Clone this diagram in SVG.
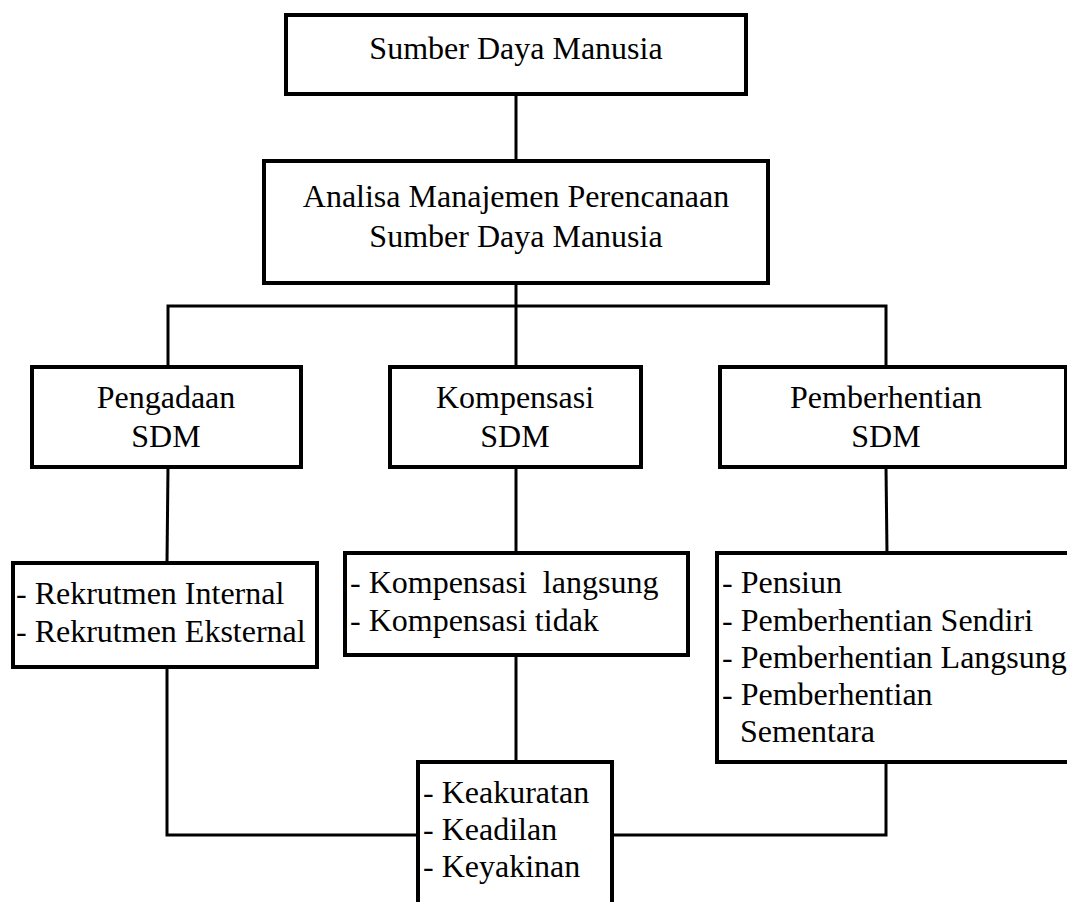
<svg xmlns="http://www.w3.org/2000/svg" width="1067" height="902" viewBox="0 0 1067 902">
<style>
.box{fill:#fff;stroke:#000;stroke-width:4}
.ln{fill:none;stroke:#000;stroke-width:3}
text{font-family:"Liberation Serif","Times New Roman",serif;font-size:32px;fill:#000;white-space:pre}
.c{text-anchor:middle}
</style>
<rect width="1067" height="902" fill="#fff"/>
<g id="connectors">
<line class="ln" x1="516" y1="94" x2="516" y2="161"/>
<line class="ln" x1="516" y1="283" x2="516" y2="367"/>
<polyline class="ln" points="168,367 168,306 886,306 886,367"/>
<line class="ln" x1="168" y1="467" x2="167" y2="563"/>
<line class="ln" x1="516" y1="467" x2="516" y2="553"/>
<line class="ln" x1="886" y1="467" x2="887" y2="553"/>
<line class="ln" x1="516" y1="655" x2="516" y2="762"/>
<polyline class="ln" points="167,667 167,835 418,835"/>
<polyline class="ln" points="886,762 886,835 612,835"/>
</g>
<g id="n-sdm">
<rect class="box" x="286" y="15" width="460" height="79"/>
<text class="c" x="516" y="59">Sumber Daya Manusia</text>
</g>
<g id="n-analisa">
<rect class="box" x="264" y="161" width="504" height="122"/>
<text class="c" x="516" y="207">Analisa Manajemen Perencanaan</text>
<text class="c" x="516" y="247">Sumber Daya Manusia</text>
</g>
<g id="n-pengadaan">
<rect class="box" x="32" y="367" width="269" height="100"/>
<text class="c" x="166" y="408">Pengadaan</text>
<text class="c" x="166" y="447">SDM</text>
</g>
<g id="n-kompensasi">
<rect class="box" x="390" y="367" width="251" height="100"/>
<text class="c" x="515" y="408">Kompensasi</text>
<text class="c" x="515" y="447">SDM</text>
</g>
<g id="n-pemberhentian">
<rect class="box" x="720" y="367" width="346" height="100"/>
<text class="c" x="886" y="408">Pemberhentian</text>
<text class="c" x="886" y="447">SDM</text>
</g>
<g id="n-rekrutmen">
<rect class="box" x="13" y="563" width="304" height="104"/>
<text x="16" y="604">- Rekrutmen Internal</text>
<text x="16" y="642">- Rekrutmen Eksternal</text>
</g>
<g id="n-komp-list">
<rect class="box" x="345" y="553" width="343" height="102"/>
<text x="350" y="593">- Kompensasi  langsung</text>
<text x="350" y="631">- Kompensasi tidak</text>
</g>
<g id="n-pember-list">
<rect class="box" x="717" y="553" width="360" height="209"/>
<text x="722" y="593">- Pensiun</text>
<text x="722" y="631">- Pemberhentian Sendiri</text>
<text x="722" y="668">- Pemberhentian Langsung</text>
<text x="722" y="705">- Pemberhentian</text>
<text x="740" y="742">Sementara</text>
</g>
<g id="n-keakuratan">
<rect class="box" x="418" y="762" width="194" height="150"/>
<text x="423" y="803">- Keakuratan</text>
<text x="423" y="840">- Keadilan</text>
<text x="423" y="877">- Keyakinan</text>
</g>
</svg>
